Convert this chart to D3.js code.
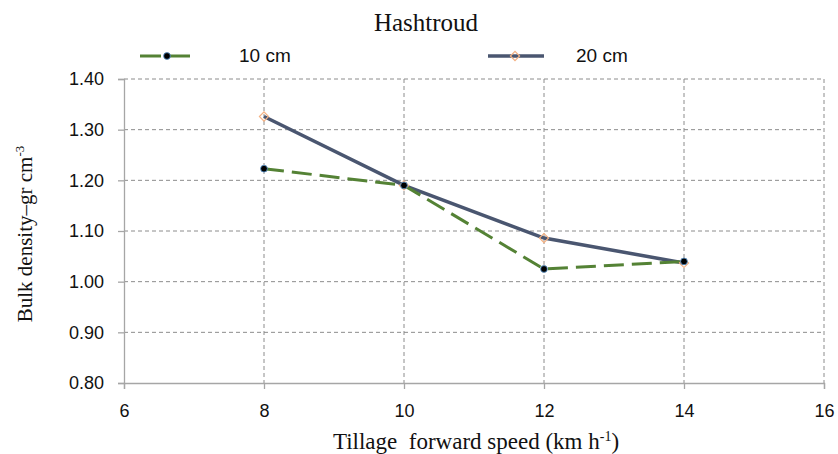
<!DOCTYPE html>
<html><head><meta charset="utf-8">
<script src="https://cdn.jsdelivr.net/npm/d3@7"></script>
<style>body{margin:0;background:#fff}</style>
</head><body>
<svg id="c" width="838" height="454"></svg>
<script>
const speeds = [8, 10, 12, 14];
const depth10 = [1.223, 1.19, 1.025, 1.04];
const depth20 = [1.326, 1.19, 1.086, 1.037];
const xTicks = [6, 8, 10, 12, 14, 16];
const yTicks = [0.80, 0.90, 1.00, 1.10, 1.20, 1.30, 1.40];
const seriesNames = ["10 cm", "20 cm"];

const svg = d3.select("#c");
const x = d3.scaleLinear().domain([6, 16]).range([124, 824]);
const y = d3.scaleLinear().domain([0.8, 1.4]).range([383, 79]);
const sans = "Liberation Sans, Arial, sans-serif";
const serif = "Liberation Serif, Times New Roman, serif";

// gridlines
svg.append("g").selectAll("line").data(yTicks.filter(d => d > 0.8)).join("line")
  .attr("x1", 124).attr("x2", 824).attr("y1", d => y(d)).attr("y2", d => y(d))
  .attr("stroke", "#8c8c8c").attr("stroke-dasharray", "4,3").attr("stroke-width", 1);
svg.append("g").selectAll("line").data(xTicks.filter(d => d > 6)).join("line")
  .attr("y1", 79).attr("y2", 383).attr("x1", d => x(d)).attr("x2", d => x(d))
  .attr("stroke", "#8c8c8c").attr("stroke-dasharray", "4,3").attr("stroke-width", 1);

// axes
const yAxis = svg.append("g").attr("transform", "translate(124,0)")
  .call(d3.axisLeft(y).tickValues(yTicks).tickFormat(d3.format(".2f")).tickSize(6).tickPadding(14));
const xAxis = svg.append("g").attr("transform", "translate(0,383)")
  .call(d3.axisBottom(x).tickValues(xTicks).tickFormat(d3.format("d")).tickSize(6).tickPadding(15));
[yAxis, xAxis].forEach(g => {
  g.attr("font-size", 18).attr("font-family", sans);
  g.select(".domain").attr("stroke", "#a6a6a6").attr("stroke-width", 1.3);
  g.selectAll(".tick line").attr("stroke", "#a6a6a6").attr("stroke-width", 1.3);
  g.selectAll("text").attr("fill", "#111");
});

const pts10 = speeds.map((s, i) => [s, depth10[i]]);
const pts20 = speeds.map((s, i) => [s, depth20[i]]);
const line = d3.line().x(d => x(d[0])).y(d => y(d[1]));

svg.append("path").attr("d", line(pts20)).attr("fill", "none")
  .attr("stroke", "#4a5670").attr("stroke-width", 3.5);
svg.append("path").attr("d", line(pts10)).attr("fill", "none")
  .attr("stroke", "#548235").attr("stroke-width", 3).attr("stroke-dasharray", "20,8");

// markers
svg.append("g").selectAll("path").data(pts20).join("path")
  .attr("d", d3.symbol().type(d3.symbolSquare).size(42))
  .attr("transform", d => `translate(${x(d[0])},${y(d[1])}) rotate(45)`)
  .attr("fill", "none").attr("stroke", "#f4b183").attr("stroke-width", 1.2);
svg.append("g").selectAll("circle").data(pts10).join("circle")
  .attr("cx", d => x(d[0])).attr("cy", d => y(d[1])).attr("r", 3.4)
  .attr("fill", "#000").attr("stroke", "#5b9bd5").attr("stroke-width", 0.8);

// title
svg.append("text").attr("x", 426).attr("y", 31).attr("text-anchor", "middle")
  .attr("font-family", serif).attr("font-size", 25).attr("fill", "#111")
  .text("Hashtroud");

// legend
const lg = svg.append("g");
lg.append("line").attr("x1", 140).attr("x2", 195).attr("y1", 56).attr("y2", 56)
  .attr("stroke", "#548235").attr("stroke-width", 3).attr("stroke-dasharray", "21,8");
lg.append("circle").attr("cx", 167).attr("cy", 56).attr("r", 3.4)
  .attr("fill", "#000").attr("stroke", "#5b9bd5").attr("stroke-width", 0.8);
lg.append("text").attr("x", 239).attr("y", 62).attr("font-family", sans)
  .attr("font-size", 19).attr("fill", "#111").text(seriesNames[0]);
lg.append("line").attr("x1", 488).attr("x2", 544).attr("y1", 56).attr("y2", 56)
  .attr("stroke", "#4a5670").attr("stroke-width", 3.5);
lg.append("path").attr("d", d3.symbol().type(d3.symbolSquare).size(42))
  .attr("transform", "translate(515,56) rotate(45)")
  .attr("fill", "none").attr("stroke", "#f4b183").attr("stroke-width", 1.2);
lg.append("text").attr("x", 576).attr("y", 62).attr("font-family", sans)
  .attr("font-size", 19).attr("fill", "#111").text(seriesNames[1]);

// axis titles
const xt = svg.append("text").attr("x", 476).attr("y", 449).attr("text-anchor", "middle")
  .attr("font-family", serif).attr("font-size", 23).attr("fill", "#111")
  .style("white-space", "pre");
xt.append("tspan").text("Tillage\u00a0 forward speed (km h");
xt.append("tspan").attr("dy", -8).attr("font-size", 14).text("-1");
xt.append("tspan").attr("dy", 8).text(")");

const yt = svg.append("text").attr("transform", "translate(32,234) rotate(-90)").attr("text-anchor", "middle")
  .attr("font-family", serif).attr("font-size", 21).attr("fill", "#111");
yt.append("tspan").text("Bulk density\u2013gr cm");
yt.append("tspan").attr("dy", -8).attr("font-size", 13).text("-3");
</script>
</body></html>
